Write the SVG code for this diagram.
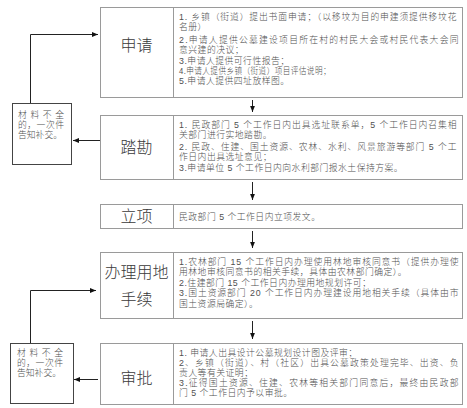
<svg xmlns="http://www.w3.org/2000/svg" width="467" height="408" viewBox="0 0 467 408">
<defs>
<marker id="ah" viewBox="0 0 10 10" refX="10" refY="5" markerWidth="6" markerHeight="6" orient="auto" markerUnits="userSpaceOnUse">
<path d="M0,1 L10,5 L0,9 Z" fill="#111"/>
</marker>
<style>
.box{fill:#fff;stroke:#9a9a9a;stroke-width:1}
.side{fill:#fff;stroke:#444;stroke-width:1}
.lbl{font-family:"Liberation Sans","Noto Sans CJK SC",sans-serif;font-size:16px;font-weight:300;fill:#3a3a3a;text-anchor:middle}
.t{font-family:"Liberation Sans","Noto Sans CJK SC",sans-serif;font-size:8.8px;letter-spacing:0.5px;font-weight:300;fill:#505050}
.s{font-family:"Liberation Sans","Noto Sans CJK SC",sans-serif;font-size:8.8px;font-weight:300;fill:#505050}
.c{fill:none;stroke:#222;stroke-width:1}
</style>
</defs>
<rect width="467" height="408" fill="#fff"/>

<g id="shenqing">
<rect class="box" x="100.5" y="7.5" width="362" height="90"/>
<line class="box" x1="173.5" y1="7.5" x2="173.5" y2="97.5"/>
<text class="lbl" x="136.5" y="51">申请</text>
<text class="t" x="179" y="19.5" textLength="278" lengthAdjust="spacing">1. 乡镇（街道）提出书面申请；（以移坟为目的申建须提供移坟花</text>
<text class="t" x="179" y="29.5">名册）</text>
<text class="t" x="179" y="42.5" textLength="280" lengthAdjust="spacing">2.申请人提供公墓建设项目所在村的村民大会或村民代表大会同</text>
<text class="t" x="179" y="53">意兴建的决议；</text>
<text class="t" x="179" y="63.5">3.申请人提供可行性报告；</text>
<text class="t" x="179" y="73.5" textLength="152" lengthAdjust="spacingAndGlyphs">4.申请人提供乡镇（街道）项目评估说明；</text>
<text class="t" x="179" y="83.5">5.申请人提供四址放样图。</text>
</g>

<g id="takan">
<rect class="box" x="100.5" y="115.5" width="362" height="64"/>
<line class="box" x1="173.5" y1="115.5" x2="173.5" y2="179.5"/>
<text class="lbl" x="136.5" y="153">踏勘</text>
<text class="t" x="179" y="127.5" textLength="278" lengthAdjust="spacing">1. 民政部门 5 个工作日内出具选址联系单，5 个工作日内召集相</text>
<text class="t" x="179" y="137.5">关部门进行实地踏勘。</text>
<text class="t" x="179" y="149.5" textLength="278" lengthAdjust="spacing">2. 民政、住建、国土资源、农林、水利、风景旅游等部门 5 个工</text>
<text class="t" x="179" y="159.5">作日内出具选址意见；</text>
<text class="t" x="179" y="171">3.申请单位 5 个工作日内向水利部门报水土保持方案。</text>
</g>

<g id="lixiang">
<rect class="box" x="100.5" y="204.5" width="362" height="24"/>
<line class="box" x1="173.5" y1="204.5" x2="173.5" y2="228.5"/>
<text class="lbl" x="136.5" y="222">立项</text>
<text class="t" x="179" y="219.5">民政部门 5 个工作日内立项发文。</text>
</g>

<g id="banli">
<rect class="box" x="100.5" y="252.5" width="362" height="66"/>
<line class="box" x1="173.5" y1="252.5" x2="173.5" y2="318.5"/>
<text class="lbl" x="136.5" y="278">办理用地</text>
<text class="lbl" x="136.5" y="305">手续</text>
<text class="t" x="179" y="264.5" textLength="280" lengthAdjust="spacing">1.农林部门 15 个工作日内办理使用林地审核同意书（提供办理使</text>
<text class="t" x="179" y="275">用林地审核同意书的相关手续，具体由农林部门确定）。</text>
<text class="t" x="179" y="285.5">2.住建部门 15 个工作日内办理用地规划许可；</text>
<text class="t" x="179" y="296" textLength="280" lengthAdjust="spacing">3.国土资源部门 20 个工作日内办理建设用地相关手续（具体由市</text>
<text class="t" x="179" y="306.5">国土资源局确定）。</text>
</g>

<g id="shenpi">
<rect class="box" x="100.5" y="343.5" width="362" height="61"/>
<line class="box" x1="173.5" y1="343.5" x2="173.5" y2="404.5"/>
<text class="lbl" x="136.5" y="384">审批</text>
<text class="t" x="179" y="355.5">1. 申请人出具设计公墓规划设计图及评审；</text>
<text class="t" x="179" y="365.5" textLength="280" lengthAdjust="spacing">2、乡镇（街道）、村（社区）出具公墓政策处理完毕、出资、负</text>
<text class="t" x="179" y="375.5">责人等有关证明；</text>
<text class="t" x="179" y="385.5" textLength="280" lengthAdjust="spacing">3.征得国土资源、住建、农林等相关部门同意后，最终由民政部</text>
<text class="t" x="179" y="395.5">门 5 个工作日内予以审批。</text>
</g>

<g id="buquan1">
<rect class="side" x="12.5" y="103.5" width="59" height="61"/>
<text class="s" x="18" y="117.5" textLength="46" lengthAdjust="spacing">材料不全</text>
<text class="s" x="18" y="127.5" textLength="46" lengthAdjust="spacing">的，一次件</text>
<text class="s" x="18" y="137.5" textLength="44" lengthAdjust="spacing">告知补交。</text>
</g>

<g id="buquan2">
<rect class="side" x="10.5" y="343.5" width="63" height="60"/>
<text class="s" x="17" y="356" textLength="46" lengthAdjust="spacing">材料不全</text>
<text class="s" x="17" y="366" textLength="46" lengthAdjust="spacing">的，一次件</text>
<text class="s" x="17" y="376" textLength="44" lengthAdjust="spacing">告知补交。</text>
</g>

<g id="connectors">
<line class="c" x1="252.5" y1="100" x2="252.5" y2="112" marker-end="url(#ah)"/>
<line class="c" x1="252.5" y1="182" x2="252.5" y2="200" marker-end="url(#ah)"/>
<line class="c" x1="252.5" y1="231" x2="252.5" y2="248" marker-end="url(#ah)"/>
<line class="c" x1="252.5" y1="321" x2="252.5" y2="339" marker-end="url(#ah)"/>
<line class="c" x1="100" y1="140.5" x2="73" y2="140.5" marker-end="url(#ah)"/>
<polyline class="c" points="30.5,103 30.5,34.5 98,34.5" marker-end="url(#ah)"/>
<line class="c" x1="98" y1="379.5" x2="74" y2="379.5" marker-end="url(#ah)"/>
<polyline class="c" points="30.5,343 30.5,290.5 96,290.5" marker-end="url(#ah)"/>
</g>
</svg>
